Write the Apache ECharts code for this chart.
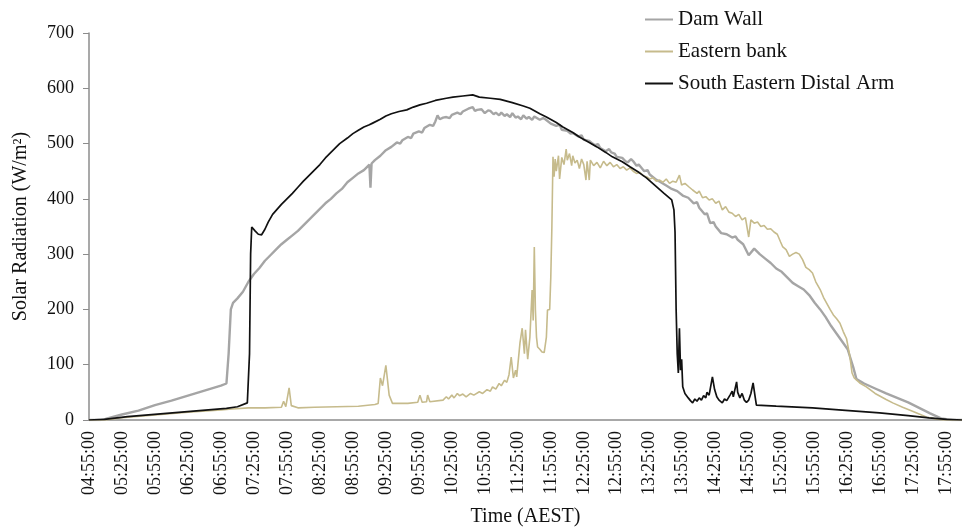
<!DOCTYPE html>
<html>
<head>
<meta charset="utf-8">
<script src="https://cdn.jsdelivr.net/npm/echarts@6/dist/echarts.min.js"></script>
<style>html,body{margin:0;padding:0;background:#fff}#c{width:962px;height:529px}</style>
</head>
<body>
<div id="c"></div>
<script>
const seriesNames = ['Dam Wall', 'Eastern bank', 'South Eastern Distal Arm'];
const yTicks = [0, 100, 200, 300, 400, 500, 600, 700];
const xStart = '04:55';
const xEnd = '18:09';

const damWall = [
['04:55',0],['05:05',0],['05:10',2],['05:25',10],['05:40',17],['05:55',27],['06:10',35],['06:25',44],['06:40',53],['06:55',62],['07:00',66],
['07:02',120],['07:04',200],['07:06',212],['07:10',220],['07:15',232],['07:20',250],['07:25',264],['07:30',275],['07:35',288],['07:40',298],
['07:45',308],['07:50',318],['07:55',326],['08:00',334],['08:05',342],['08:10',352],['08:15',362],['08:20',372],['08:25',382],['08:30',392],
['08:35',400],['08:40',410],['08:45',418],['08:50',430],['08:55',438],['09:00',446],['09:05',452],['09:08',458],['09:10',462],['09:11',420],
['09:12',464],['09:15',470],['09:20',478],['09:25',488],['09:30',494],['09:35',502],['09:38',500],['09:40',506],['09:45',512],['09:48',510],
['09:50',518],['09:55',522],['09:58',520],['10:00',528],['10:05',534],['10:08',532],['10:10',540],['10:12',551],['10:14',544],['10:17',547],
['10:20',548],['10:23',546],['10:25',552],['10:30',556],['10:33',553],['10:35',558],['10:40',563],['10:44',566],['10:46',559],['10:48',561],
['10:52',562],['10:55',555],['10:58',560],['11:00',559],['11:03',553],['11:05',556],['11:08',551],['11:10',556],['11:13',550],['11:15',553],
['11:18',548],['11:20',555],['11:23',547],['11:25',549],['11:28',544],['11:30',551],['11:33',545],['11:35',548],['11:38',543],['11:40',549],
['11:45',543],['11:48',546],['11:50',544],['11:55',536],['12:00',532],['12:03',534],['12:05',525],['12:10',523],['12:13',518],['12:15',519],
['12:20',513],['12:23',515],['12:25',507],['12:30',505],['12:33',500],['12:35',497],['12:38',499],['12:40',492],['12:45',486],['12:48',490],
['12:50',484],['12:53',482],['12:55',476],['13:00',474],['13:03',468],['13:05',466],['13:08',472],['13:10',468],['13:13',460],['13:15',462],
['13:20',450],['13:23',452],['13:25',444],['13:30',436],['13:35',430],['13:40',424],['13:45',418],['13:50',414],['13:55',406],
['14:00',402],['14:05',392],['14:08',394],['14:10',384],['14:15',372],['14:17',374],['14:20',356],['14:23',358],['14:25',350],['14:30',338],
['14:35',336],['14:40',330],['14:43',332],['14:45',326],['14:50',318],['14:55',298],['15:00',310],['15:05',300],['15:10',292],['15:15',284],
['15:20',274],['15:25',268],['15:30',258],['15:35',248],['15:40',242],['15:45',236],['15:50',226],['15:55',212],['16:00',200],['16:05',186],
['16:10',170],['16:15',156],['16:20',142],['16:25',128],['16:30',96],['16:33',74],['16:40',66],['16:50',57],['17:00',48],['17:10',40],
['17:20',32],['17:30',22],['17:40',12],['17:50',3],['18:00',0],['18:09',0]
];

const easternBank = [
['04:55',0],['05:10',0],['05:25',4],['05:55',9],['06:25',14],['06:55',18],['07:05',20],['07:20',22],['07:35',22],['07:50',23],['07:52',34],
['07:54',24],['07:57',58],['07:59',26],['08:05',22],['08:20',23],['08:40',24],['09:00',25],['09:15',28],['09:18',30],['09:20',76],['09:22',62],
['09:25',99],['09:28',45],['09:31',30],['09:45',30],['09:54',32],['09:56',45],['09:58',32],['10:02',33],['10:03',45],['10:05',33],['10:17',36],
['10:20',42],['10:22',38],['10:25',45],['10:27',40],['10:30',48],['10:32',44],['10:35',47],['10:38',42],['10:42',48],['10:45',45],['10:50',51],
['10:53',48],['10:57',55],['11:00',52],['11:02',60],['11:05',56],['11:08',66],['11:10',62],['11:13',72],['11:15',68],['11:17',82],['11:19',114],
['11:21',76],['11:23',90],['11:24',78],['11:27',140],['11:29',166],['11:31',120],['11:32',163],['11:34',110],['11:36',150],['11:38',235],
['11:39',180],['11:40',313],['11:41',200],['11:42',150],['11:43',132],['11:45',128],['11:47',123],['11:49',122],['11:51',150],['11:52',199],
['11:54',200],['11:55',258],['11:56',350],['11:57',476],['11:58',440],['11:59',472],['12:00',450],['12:02',478],['12:03',436],['12:05',475],
['12:07',462],['12:09',490],['12:10',470],['12:12',482],['12:14',460],['12:15',478],['12:17',465],['12:19',470],['12:21',455],['12:23',472],
['12:25',462],['12:27',434],['12:28',468],['12:30',434],['12:31',470],['12:34',460],['12:37',466],['12:40',456],['12:43',468],['12:46',460],
['12:49',466],['12:52',458],['12:55',462],['12:58',455],['13:01',458],['13:04',452],['13:07',456],['13:10',450],['13:13',446],['13:16',448],
['13:19',442],['13:22',440],['13:25',436],['13:28',438],['13:31',432],['13:34',434],['13:37',430],['13:40',436],['13:43',428],['13:46',432],
['13:49',430],['13:52',443],['13:54',425],['13:57',428],['14:01',421],['14:04',416],['14:08',410],['14:10',414],['14:13',402],['14:16',404],
['14:19',398],['14:22',400],['14:25',392],['14:28',396],['14:31',380],['14:34',386],['14:37',376],['14:40',374],['14:43',368],['14:46',372],
['14:49',362],['14:52',366],['14:55',331],['14:57',362],['15:00',356],['15:03',358],['15:06',350],['15:09',352],['15:12',345],['15:15',346],
['15:18',340],['15:21',336],['15:24',322],['15:26',313],['15:29',308],['15:32',296],['15:35',300],['15:38',303],['15:41',300],['15:44',290],
['15:47',276],['15:50',272],['15:53',266],['15:56',250],['16:00',236],['16:03',222],['16:06',211],['16:09',200],['16:12',190],['16:15',183],
['16:18',175],['16:21',160],['16:24',147],['16:27',115],['16:29',85],['16:31',76],['16:36',67],['16:42',60],['16:50',48],['17:00',37],
['17:06',31],['17:15',23],['17:24',16],['17:30',11],['17:37',5],['17:45',2],['17:52',0],['18:09',0]
];

const southEasternDistalArm = [
['04:55',0],['05:09',1],['05:30',6],['06:00',11],['06:30',16],['07:00',21],['07:10',24],['07:19',31],['07:21',120],['07:22',300],['07:23',349],
['07:26',342],['07:29',336],['07:32',335],['07:35',345],['07:38',358],['07:42',372],['07:46',381],['07:50',390],['07:55',400],['08:00',410],
['08:05',421],['08:10',432],['08:13',438],['08:20',452],['08:25',462],['08:30',474],['08:35',484],['08:40',494],['08:43',500],['08:50',510],
['08:55',518],['09:00',524],['09:05',530],['09:10',534],['09:13',537],['09:20',544],['09:25',550],['09:30',554],['09:37',558],['09:44',561],
['09:50',566],['09:56',570],['10:02',573],['10:10',578],['10:20',582],['10:26',584],['10:35',586],['10:44',588],['10:50',584],['11:00',582],
['11:09',580],['11:20',574],['11:30',568],['11:36',564],['11:45',554],['11:51',548],['12:00',538],['12:06',530],['12:15',520],['12:21',512],
['12:30',502],['12:37',494],['12:45',484],['12:51',476],['13:00',467],['13:07',458],['13:15',448],['13:22',438],['13:30',424],['13:38',410],
['13:45',398],['13:47',380],['13:48',340],['13:49',200],['13:50',120],['13:51',85],['13:52',166],['13:53',90],['13:54',110],['13:55',60],
['13:57',48],['14:00',40],['14:02',35],['14:04',31],['14:06',38],['14:08',34],['14:10',40],['14:12',36],['14:14',44],['14:16',40],['14:17',50],
['14:19',45],['14:20',56],['14:22',78],['14:24',55],['14:26',42],['14:28',36],['14:31',31],['14:33',38],['14:35',35],['14:38',45],['14:40',52],
['14:41',42],['14:43',60],['14:44',69],['14:45',50],['14:47',40],['14:49',48],['14:51',36],['14:53',32],['14:55',36],['14:57',48],['14:59',67],
['15:01',40],['15:02',27],['15:20',25],['15:53',22],['16:20',18],['16:54',13],['17:20',8],['17:39',4],['17:55',1],['18:09',0]
];

function toMin(s){const p=s.split(':');return (+p[0])*60+(+p[1]);}
const base = toMin(xStart);
function conv(arr){return arr.map(d=>[toMin(d[0])-base, d[1]]);}
function fmt(v){const t=v+base;const h=Math.floor(t/60), m=t%60;return String(h).padStart(2,'0')+':'+String(m).padStart(2,'0')+':00';}

const serif = '"Liberation Serif", "Times New Roman", serif';
const colors = ['#a5a5a5', '#c6bb8c', '#111111'];
const widths = [2.4, 1.6, 1.7];
const datasets = [damWall, easternBank, southEasternDistalArm];

const chart = echarts.init(document.getElementById('c'));
chart.setOption({
  animation: false,
  backgroundColor: '#fff',
  grid: {left: 89, right: 0, top: 33, bottom: 109, outerBoundsMode: 'none', containLabel: false},
  legend: {
    orient: 'vertical', left: 640, top: 4, itemWidth: 28, itemHeight: 2, itemGap: 11,
    icon: 'rect',
    textStyle: {fontFamily: serif, fontSize: 21, color: '#111'},
    data: seriesNames
  },
  xAxis: {
    type: 'value', min: 0, max: toMin(xEnd) - base, interval: 30,
    name: 'Time (AEST)', nameLocation: 'middle', nameGap: 87,
    nameTextStyle: {fontFamily: serif, fontSize: 20, color: '#111'},
    axisLine: {show: true, onZero: false, lineStyle: {color: '#8c8c8c', width: 1.5}},
    axisTick: {show: false},
    splitLine: {show: false},
    axisLabel: {rotate: 90, margin: 11, fontFamily: serif, fontSize: 18, color: '#111', showMaxLabel: false, formatter: fmt}
  },
  yAxis: {
    type: 'value', min: yTicks[0], max: yTicks[yTicks.length-1], interval: 100,
    name: 'Solar Radiation (W/m²)', nameLocation: 'middle', nameGap: 58, nameRotate: 90,
    nameTextStyle: {fontFamily: serif, fontSize: 20, color: '#111'},
    axisLine: {show: true, lineStyle: {color: '#8c8c8c', width: 1.5}},
    axisTick: {show: true, length: 6, lineStyle: {color: '#8c8c8c'}},
    splitLine: {show: false},
    axisLabel: {margin: 15, fontFamily: serif, fontSize: 18, color: '#111'}
  },
  series: seriesNames.map((n,i)=>({
    name: n, type: 'line', showSymbol: false, symbol: 'none',
    data: conv(datasets[i]),
    lineStyle: {color: colors[i], width: widths[i]},
    itemStyle: {color: colors[i]}
  }))
});
</script>
</body>
</html>
